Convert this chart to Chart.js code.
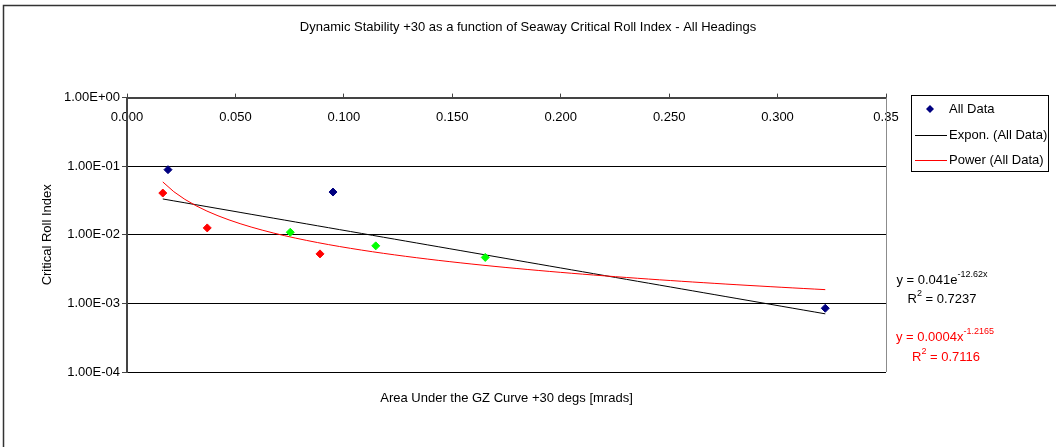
<!DOCTYPE html>
<html>
<head>
<meta charset="utf-8">
<script src="https://cdn.jsdelivr.net/npm/chart.js@4/dist/chart.umd.min.js"></script>
<style>
  html, body { margin: 0; padding: 0; background: #fff; }
  #wrap { width: 1056px; height: 447px; position: relative; }
</style>
</head>
<body>
<div id="wrap"><canvas id="stability-chart"></canvas></div>
<script>
/* Dynamic stability vs critical roll index
 * ----------------------------------------
 * scatter of all headings with exponential and power trendlines
 */
const area_gz = [0.0189, 0.0950, 0.3220, 0.0165, 0.0370, 0.0890, 0.0753, 0.1147, 0.1652];
const roll_index = [0.089, 0.042, 0.00085, 0.0406, 0.0126, 0.00527, 0.0109, 0.0069, 0.00468];

// trendline coefficients as printed next to the plot
const expon_a = 0.041;
const expon_b = -12.62;
const expon_r2 = 0.7237;
const power_a = 0.0004;
const power_b = -1.2165;
const power_r2 = 0.7116;

const x_ticks = [0, 0.05, 0.1, 0.15, 0.2, 0.25, 0.3, 0.35];
const x_tick_labels = ['0.000', '0.050', '0.100', '0.150', '0.200', '0.250', '0.300', '0.35'];
const y_ticks = [1e-4, 1e-3, 1e-2, 1e-1, 1];
const y_tick_labels = ['1.00E-04', '1.00E-03', '1.00E-02', '1.00E-01', '1.00E+00'];

const legend_labels = ['All Data', 'Expon. (All Data)', 'Power (All Data)'];

// marker colour of each point (first three blue, then red, then green)
const point_colors = ['#000080', '#000080', '#000080',
                      '#ff0000', '#ff0000', '#ff0000',
                      '#00ff00', '#00ff00', '#00ff00'];

const FONT = 'Arial, "Liberation Sans", sans-serif';

function trendPoints(fn) {
  const lo = Math.min(...area_gz);
  const hi = Math.max(...area_gz);
  const pts = [];
  const n = 60;
  for (let i = 0; i <= n; i++) {
    const x = lo + (hi - lo) * i / n;
    pts.push({x: x, y: fn(x)});
  }
  return pts;
}

const scatter_data = area_gz.map((x, i) => ({x: x, y: roll_index[i]}));
const expon_data = trendPoints(x => expon_a * Math.exp(expon_b * x));
const power_data = trendPoints(x => power_a * Math.pow(x, power_b));

// frame, plot border, legend box and trendline equations
const decorations = {
  id: 'decorations',
  beforeDatasetsDraw(chart) {
    const ctx = chart.ctx;
    const a = chart.chartArea;
    ctx.save();
    ctx.strokeStyle = '#8c8c8c';
    ctx.lineWidth = 1;
    ctx.beginPath();
    ctx.moveTo(Math.round(a.right) + 0.5, a.top);
    ctx.lineTo(Math.round(a.right) + 0.5, a.bottom);
    ctx.stroke();
    ctx.restore();
  },
  afterDraw(chart) {
    const ctx = chart.ctx;
    ctx.save();
    // outer frame
    ctx.strokeStyle = '#333';
    ctx.lineWidth = 1.5;
    ctx.beginPath();
    ctx.moveTo(3.5, 447);
    ctx.lineTo(3.5, 5.5);
    ctx.lineTo(1056, 5.5);
    ctx.stroke();

    // legend
    ctx.lineWidth = 1;
    ctx.strokeStyle = '#000';
    ctx.strokeRect(911.5, 95.5, 137, 76);
    ctx.font = '13px ' + FONT;
    ctx.textBaseline = 'middle';
    ctx.textAlign = 'left';
    ctx.fillStyle = '#000080';
    ctx.beginPath();
    ctx.moveTo(926, 109); ctx.lineTo(930, 105); ctx.lineTo(934, 109); ctx.lineTo(930, 113);
    ctx.closePath();
    ctx.fill();
    ctx.fillStyle = '#000';
    ctx.fillText(legend_labels[0], 949, 109);
    ctx.strokeStyle = '#000';
    ctx.beginPath(); ctx.moveTo(915, 135.5); ctx.lineTo(947, 135.5); ctx.stroke();
    ctx.fillText(legend_labels[1], 949, 135);
    ctx.strokeStyle = '#ff0000';
    ctx.beginPath(); ctx.moveTo(915, 160.5); ctx.lineTo(947, 160.5); ctx.stroke();
    ctx.fillText(legend_labels[2], 949, 160);

    // trendline equations
    drawEquation(ctx, 942, 280, 'y = ' + expon_a + 'e', (expon_b.toFixed(2)) + 'x', '#000');
    drawEquation(ctx, 942, 299, 'R', '', '#000', '2', ' = ' + expon_r2.toFixed(4));
    drawEquation(ctx, 945, 337, 'y = ' + power_a + 'x', power_b.toFixed(4), '#ff0000');
    drawEquation(ctx, 946, 357, 'R', '', '#ff0000', '2', ' = ' + power_r2.toFixed(4));
    ctx.restore();
  }
};

// draws "main^sup tail" centred on cx
function drawEquation(ctx, cx, cy, main, sup, color, sup2, tail) {
  const big = '13px ' + FONT;
  const small = '9px ' + FONT;
  const s = sup || sup2 || '';
  const t = tail || '';
  ctx.font = big;
  const w1 = ctx.measureText(main).width;
  const w3 = ctx.measureText(t).width;
  ctx.font = small;
  const w2 = ctx.measureText(s).width;
  let x = cx - (w1 + w2 + w3) / 2;
  ctx.fillStyle = color;
  ctx.textAlign = 'left';
  ctx.textBaseline = 'middle';
  ctx.font = big;
  ctx.fillText(main, x, cy);
  x += w1;
  ctx.font = small;
  ctx.fillText(s, x, cy - 5);
  x += w2;
  ctx.font = big;
  ctx.fillText(t, x, cy);
}

Chart.defaults.font.family = FONT;
Chart.defaults.color = '#000';

const ctx = document.getElementById('stability-chart').getContext('2d');
const chart = new Chart(ctx, {
  type: 'scatter',
  data: {
    datasets: [
      {
        label: legend_labels[0],
        data: scatter_data,
        pointStyle: 'rectRot',
        pointRadius: 4,
        pointBorderWidth: 1,
        pointBackgroundColor: point_colors,
        pointBorderColor: point_colors,
        order: 0
      },
      {
        label: legend_labels[1],
        type: 'line',
        data: expon_data,
        borderColor: '#000',
        borderWidth: 1,
        pointRadius: 0,
        fill: false,
        order: 2
      },
      {
        label: legend_labels[2],
        type: 'line',
        data: power_data,
        borderColor: '#ff0000',
        borderWidth: 1,
        pointRadius: 0,
        fill: false,
        order: 1
      }
    ]
  },
  options: {
    responsive: true,
    maintainAspectRatio: false,
    animation: false,
    layout: {
      padding: 0
    },
    plugins: {
      legend: { display: false },
      tooltip: { enabled: false },
      title: {
        display: true,
        text: 'Dynamic Stability +30 as a function of Seaway Critical Roll Index - All Headings',
        color: '#000',
        font: { size: 13, weight: 'normal' },
        padding: { top: 20, bottom: 12 }
      }
    },
    scales: {
      x: {
        type: 'linear',
        position: 'top',
        min: 0,
        max: 0.35,
        afterBuildTicks: scale => { scale.ticks = x_ticks.map(v => ({value: v})); },
        afterFit: scale => { scale.height = 50; },
        ticks: {
          mirror: true,
          padding: 12,
          font: { size: 13 },
          color: '#000',
          maxRotation: 0,
          autoSkip: false,
          callback: (v, i) => x_tick_labels[i]
        },
        grid: {
          drawOnChartArea: false,
          drawTicks: true,
          tickLength: 4,
          color: '#444'
        },
        border: { color: '#444', width: 2 }
      },
      x2: {
        type: 'linear',
        position: 'bottom',
        min: 0,
        max: 0.35,
        afterFit: scale => { scale.height = 75; },
        ticks: { display: false },
        grid: { display: false },
        border: { display: false },
        title: {
          display: true,
          text: 'Area Under the GZ Curve +30 degs [mrads]',
          color: '#000',
          font: { size: 13 },
          padding: { top: 4, bottom: 41 }
        }
      },
      y: {
        type: 'logarithmic',
        position: 'left',
        min: 1e-4,
        max: 1,
        afterBuildTicks: scale => { scale.ticks = y_ticks.map(v => ({value: v})); },
        afterFit: scale => { scale.width = 127; },
        ticks: {
          padding: 2,
          font: { size: 13 },
          color: '#000',
          callback: (v, i) => y_tick_labels[i]
        },
        grid: {
          color: '#000',
          lineWidth: 1,
          drawTicks: true,
          tickLength: 5,
          tickColor: '#444'
        },
        border: { color: '#444', width: 2 },
        title: {
          display: true,
          text: 'Critical Roll Index',
          color: '#000',
          font: { size: 13 },
          padding: { top: 40, bottom: 0 }
        }
      },
      // empty right-hand band that holds the legend and equations
      side: {
        type: 'linear',
        position: 'right',
        display: true,
        afterFit: scale => { scale.width = 170; },
        ticks: { display: false },
        grid: { display: false },
        border: { display: false }
      }
    }
  },
  plugins: [decorations]
});
</script>
</body>
</html>
